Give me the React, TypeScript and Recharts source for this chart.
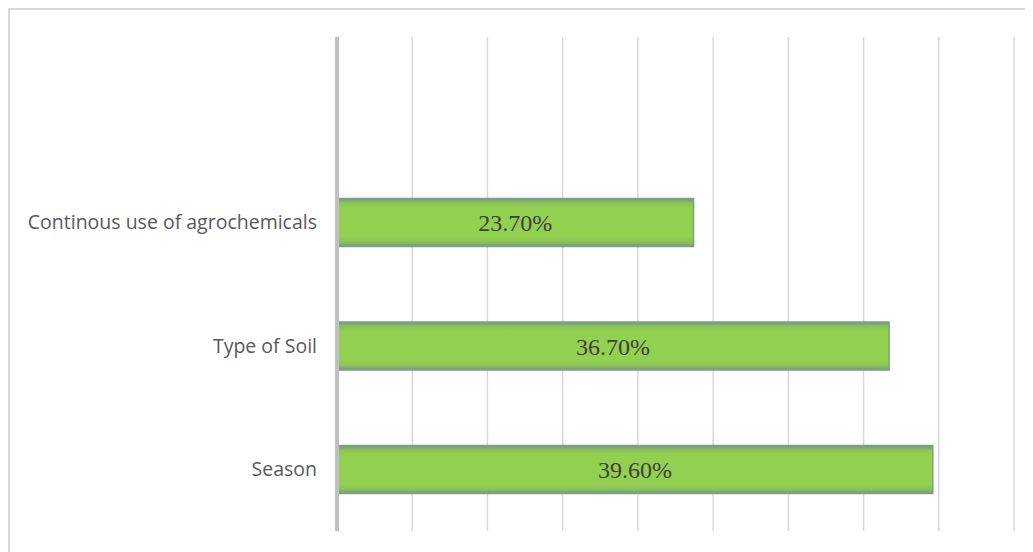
import React from "react";
import { BarChart, Bar, XAxis, YAxis, CartesianGrid, LabelList } from "recharts";

const categories = ["", "Continous use of agrochemicals", "Type of Soil", "Season"];
const values: (number | null)[] = [null, 23.7, 36.7, 39.6];
const xTicks = [0, 5, 10, 15, 20, 25, 30, 35, 40, 45];

const data = categories.map((name, i) => ({ name, value: values[i] }));

export default function App() {
  return (
    <div
      style={{
        width: 1023,
        height: 542,
        borderLeft: "2px solid #d9d9d9",
        borderTop: "2px solid #d9d9d9",
        background: "#ffffff",
      }}
    >
      <style>{"body{overflow:hidden}"}</style>
      <BarChart
        width={1023}
        height={542}
        data={data}
        layout="vertical"
        margin={{ top: 27, right: 19, bottom: 21, left: 0 }}
        barCategoryGap={0}
      >
        <defs>
          <linearGradient id="barGrad" x1="0" y1="0" x2="0" y2="1">
            <stop offset="0%" stopColor="#76997f" />
            <stop offset="10%" stopColor="#8cc556" />
            <stop offset="20%" stopColor="#92d050" />
            <stop offset="80%" stopColor="#92d050" />
            <stop offset="90%" stopColor="#8cc556" />
            <stop offset="100%" stopColor="#76997f" />
          </linearGradient>
        </defs>
        <CartesianGrid horizontal={false} stroke="#d9d9d9" strokeWidth={1.5} />
        <XAxis type="number" domain={[0, 45]} ticks={xTicks} hide />
        <YAxis
          type="category"
          dataKey="name"
          width={327}
          axisLine={{ stroke: "#bfbfbf", strokeWidth: 4 }}
          tickLine={false}
          tickSize={0}
          tickMargin={20}
          interval={0}
          tick={{ fill: "#595959", fontSize: 19.5, fontFamily: "'Open Sans', sans-serif" }}
        />
        <Bar
          dataKey="value"
          barSize={48}
          fill="url(#barGrad)"
          stroke="#7b9f8a"
          strokeWidth={1.5}
          isAnimationActive={false}
        >
          <LabelList
            dataKey="value"
            position="center"
            formatter={(v: any) => (v == null ? "" : Number(v).toFixed(2) + "%")}
            style={{ fill: "#404040", fontSize: 24, fontFamily: "'Liberation Serif', 'Times New Roman', serif" }}
          />
        </Bar>
      </BarChart>
    </div>
  );
}
